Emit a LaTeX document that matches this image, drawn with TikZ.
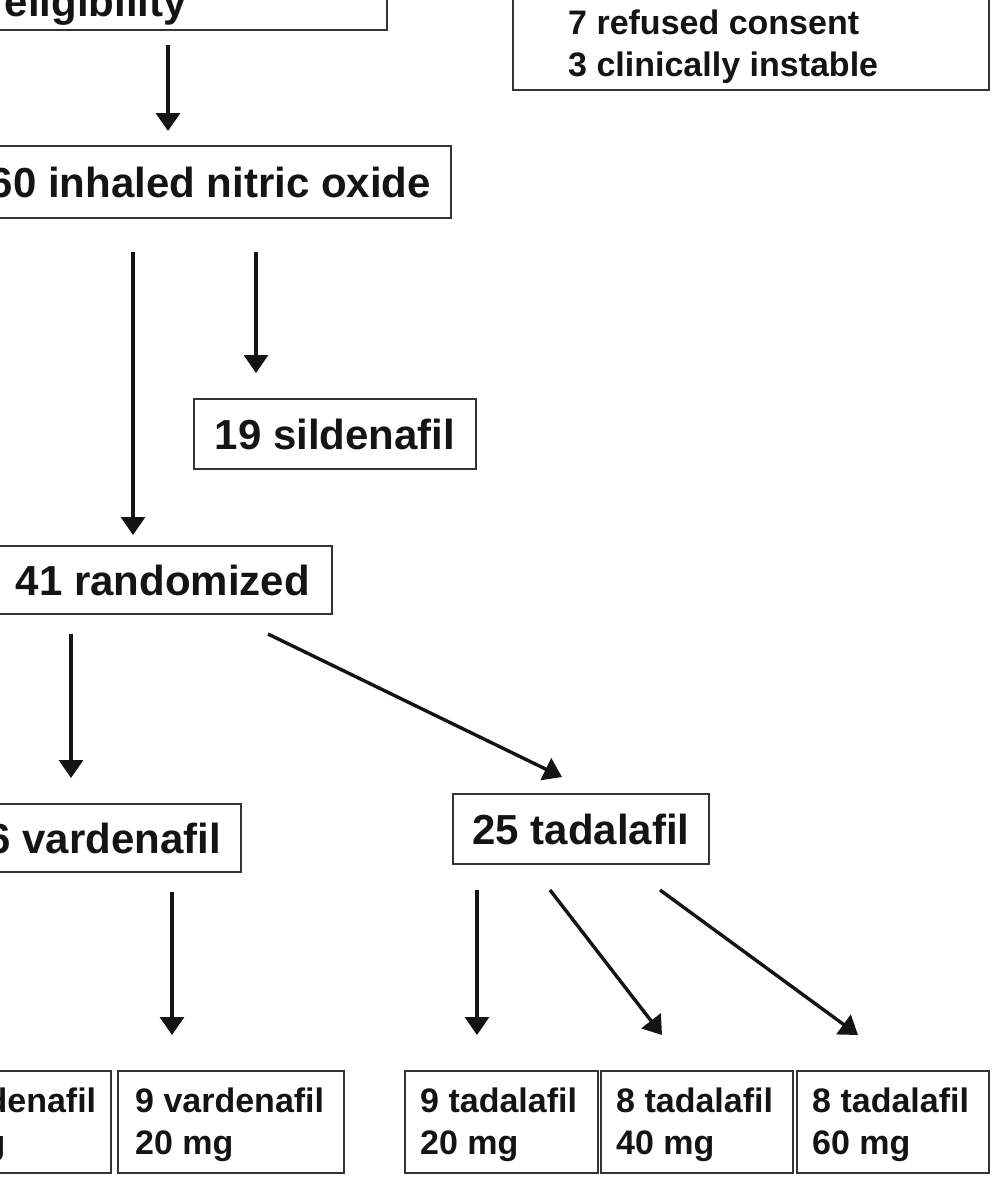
\documentclass[tikz,border=0pt]{standalone}
\usepackage{fontspec}
\setmainfont{Liberation Sans}
\usetikzlibrary{arrows.meta,calc}
\newcommand\twoln[2]{\begin{tabular}[t]{@{}l@{}}#1\\#2\end{tabular}}
\begin{document}
\begin{tikzpicture}[x=1pt,y=-1pt,
  box/.style={draw=black!80, line width=2pt, inner sep=0pt},
  big/.style={font=\fontsize{42}{50}\selectfont\bfseries, text height=30.5pt, text depth=0pt, text=black!92},
  small/.style={font=\fontsize{34}{42}\selectfont\bfseries, inner sep=0pt, text=black!92},
  arr/.style={line width=3.4pt, draw=black!92, -{Triangle[width=24pt,length=18pt]}}
]
\useasboundingbox (0,0) rectangle (996,1178);
\clip (0,0) rectangle (996,1178);

% top boxes
\node[box, minimum width=800pt, minimum height=80pt, anchor=south east] (elig) at (388,31) {};
\node[big, inner sep=0pt, anchor=base east] (eligtxt) at (187,16) {eligibility};

\node[box, minimum width=476pt, minimum height=140pt, anchor=south west] (excl) at (512,91) {};
\node[small, anchor=base west] (excl1) at (568,34) {7 refused consent};
\node[small, anchor=base west] (excl2) at (568,76) {3 clinically instable};

% middle boxes
\node[box, big, inner xsep=20pt, minimum height=72pt, anchor=north east] (nio) at (452,145) {60 inhaled nitric oxide};
\node[box, big, minimum width=282pt, minimum height=70pt, anchor=north west] (sil) at (193,398) {19 sildenafil};
\node[box, big, inner xsep=22pt, minimum height=68pt, anchor=north east] (rand) at (333,545) {41 randomized};
\node[box, big, inner xsep=20pt, minimum height=68pt, anchor=north east] (var) at (242,803) {6 vardenafil};
\node[box, big, minimum width=256pt, minimum height=70pt, anchor=north west] (tad) at (452,793) {25 tadalafil};

% bottom boxes
\node[box, minimum width=300pt, minimum height=102pt, anchor=north east] (v10) at (112,1070) {};
\node[box, minimum width=226pt, minimum height=102pt, anchor=north west] (v20) at (117,1070) {};
\node[box, minimum width=193pt, minimum height=102pt, anchor=north west] (t20) at (404,1070) {};
\node[box, minimum width=192pt, minimum height=102pt, anchor=north west] (t40) at (600,1070) {};
\node[box, minimum width=192pt, minimum height=102pt, anchor=north west] (t60) at (796,1070) {};

\node[small, anchor=base west] (v10txt) at (-93,1112) {\twoln{\phantom{7 }vardenafil}{\phantom{10 }mg}};
\node[small, anchor=base west] (v20txt) at (135,1112) {\twoln{9 vardenafil}{20 mg}};
\node[small, anchor=base west] (t20txt) at (420,1112) {\twoln{9 tadalafil}{20 mg}};
\node[small, anchor=base west] (t40txt) at (616,1112) {\twoln{8 tadalafil}{40 mg}};
\node[small, anchor=base west] (t60txt) at (812,1112) {\twoln{8 tadalafil}{60 mg}};

% arrows
\draw[arr] ($(elig.south -| 168,0)+(0,14)$) -- ($(nio.north -| 168,0)+(0,-14)$);
\draw[arr] ($(nio.south -| 133,0)+(0,33)$) -- ($(rand.north -| 133,0)+(0,-10)$);
\draw[arr] ($(nio.south -| 256,0)+(0,33)$) -- ($(sil.north -| 256,0)+(0,-25)$);
\draw[arr] ($(rand.south -| 71,0)+(0,19)$) -- ($(var.north -| 71,0)+(0,-25)$);
\draw[arr] ($(rand.south -| 268,0)+(0,19)$) -- ($(tad.north -| 562,0)+(0,-16)$);
\draw[arr] ($(var.south -| 172,0)+(0,19)$) -- ($(v20.north -| 172,0)+(0,-35)$);
\draw[arr] ($(tad.south -| 477,0)+(0,25)$) -- ($(t20.north -| 477,0)+(0,-35)$);
\draw[arr] ($(tad.south -| 550,0)+(0,25)$) -- ($(t40.north -| 662,0)+(0,-35)$);
\draw[arr] ($(tad.south -| 660,0)+(0,25)$) -- ($(t60.north -| 858,0)+(0,-35)$);
\end{tikzpicture}
\end{document}
